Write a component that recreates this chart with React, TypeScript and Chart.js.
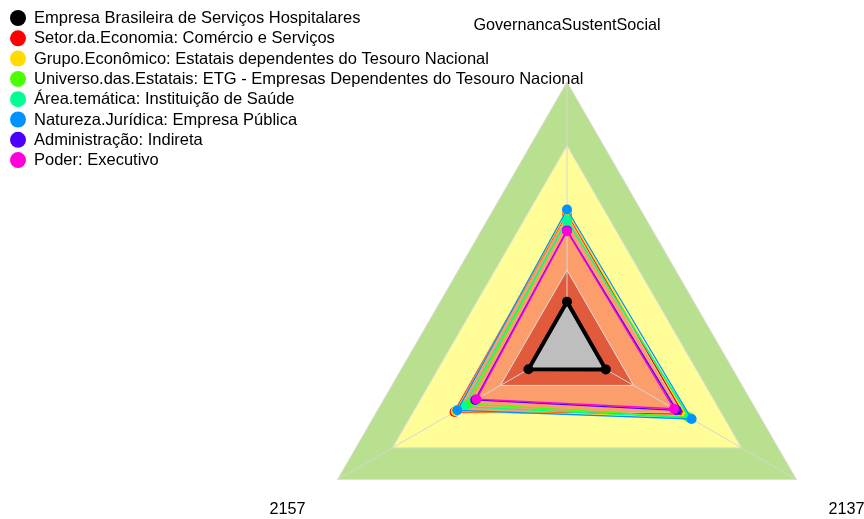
import React, { useEffect, useRef } from "react";
import { Chart, registerables } from "chart.js";
Chart.register(...registerables);

// Axis order for Chart.js (clockwise from top): top, bottom-right, bottom-left
const axisLabels = ["GovernancaSustentSocial", "2137", "2157"];

const seriesNames = [
  "Empresa Brasileira de Serviços Hospitalares",
  "Setor.da.Economia: Comércio e Serviços",
  "Grupo.Econômico: Estatais dependentes do Tesouro Nacional",
  "Universo.das.Estatais: ETG - Empresas Dependentes do Tesouro Nacional",
  "Área.temática: Instituição de Saúde",
  "Natureza.Jurídica: Empresa Pública",
  "Administração: Indireta",
  "Poder: Executivo",
];
const seriesColors = ["#000000", "#FF0000", "#FFDB00", "#49FF00", "#00FF92", "#0092FF", "#4900FF", "#FF00DB"];

const empresa = [0.171, 0.169, 0.168];
const setor = [0.505, 0.507, 0.49];
const grupo = [0.51, 0.52, 0.485];
const universo = [0.48, 0.53, 0.43];
const area = [0.478, 0.535, 0.45];
const natureza = [0.519, 0.543, 0.478];
const administracao = [0.44, 0.478, 0.4];
const poder = [0.437, 0.466, 0.394];

// background bands (outer to inner)
const bandVerde = [1.0, 1.0, 1.0];
const bandAmarelo = [0.76, 0.76, 0.76];
const bandLaranja = [0.5, 0.5, 0.5];
const bandVermelho = [0.29, 0.29, 0.29];
const bandColors = ["#B9E08E", "#FFFD98", "#FC9E6C", "#E15A3B"];

export default function App() {
  const ref = useRef<HTMLCanvasElement>(null);
  useEffect(() => {
    document.body.style.margin = "0";
    const canvas = ref.current!;
    const seriesData = [empresa, setor, grupo, universo, area, natureza, administracao, poder];
    const bands = [bandVerde, bandAmarelo, bandLaranja, bandVermelho];
    const datasets: any[] = [];
    seriesData.forEach((d, i) => {
      datasets.push({
        label: seriesNames[i],
        data: d,
        borderColor: seriesColors[i],
        backgroundColor: i === 0 ? "#BEBEBE" : "rgba(0,0,0,0)",
        fill: i === 0 ? "origin" : false,
        borderWidth: i === 0 ? 4 : 1.3,
        pointRadius: 5,
        pointHoverRadius: 5,
        pointBackgroundColor: seriesColors[i],
        pointBorderColor: seriesColors[i],
        pointBorderWidth: 0,
        order: seriesData.length - i,
      });
    });
    bands.forEach((d, j) => {
      datasets.push({
        label: "band" + j,
        data: d,
        borderColor: "#DEDEDE",
        backgroundColor: bandColors[j],
        fill: "origin",
        borderWidth: 1,
        pointRadius: 0,
        pointHoverRadius: 0,
        order: 100 - j,
        innermost: j === bands.length - 1,
      });
    });

    const overlay = {
      id: "overlay",
      afterDatasetDraw(chart: any, args: any) {
        const ds = chart.data.datasets[args.index];
        if (!ds.innermost) return;
        const scale = chart.scales.r;
        const ctx = chart.ctx;
        ctx.save();
        ctx.strokeStyle = "#D6D6D6";
        ctx.lineWidth = 1;
        for (let i = 0; i < axisLabels.length; i++) {
          const p = scale.getPointPosition(i, scale.getDistanceFromCenterForValue(1));
          ctx.beginPath();
          ctx.moveTo(scale.xCenter, scale.yCenter);
          ctx.lineTo(p.x, p.y);
          ctx.stroke();
        }
        ctx.restore();
      },
      afterDraw(chart: any) {
        const scale = chart.scales.r;
        const ctx = chart.ctx;
        ctx.save();
        ctx.font = "16.2px 'Liberation Sans', Arial, sans-serif";
        ctx.fillStyle = "#000000";
        ctx.textAlign = "center";
        ctx.textBaseline = "middle";
        for (let i = 0; i < axisLabels.length; i++) {
          const p = scale.getPointPosition(i, scale.drawingArea * 1.218);
          ctx.fillText(axisLabels[i], p.x, p.y + 1.5);
        }
        // legend
        ctx.font = "16.5px 'Liberation Sans', Arial, sans-serif";
        ctx.textAlign = "left";
        for (let i = 0; i < seriesNames.length; i++) {
          const y = 18 + i * 20.3;
          ctx.beginPath();
          ctx.fillStyle = seriesColors[i];
          ctx.arc(18, y, 8, 0, Math.PI * 2);
          ctx.fill();
          ctx.fillStyle = "#000000";
          ctx.fillText(seriesNames[i], 34, y + 0.5);
        }
        ctx.restore();
      },
    };

    const chart = new Chart(canvas, {
      type: "radar",
      data: { labels: axisLabels, datasets },
      options: {
        responsive: false,
        animation: false,
        events: [],
        layout: { padding: { left: 302, right: 32, top: 82, bottom: 8 } },
        elements: { line: { tension: 0 } },
        plugins: { legend: { display: false }, tooltip: { enabled: false } },
        scales: {
          r: {
            min: 0,
            max: 1,
            ticks: { display: false },
            grid: { display: false },
            angleLines: { display: false },
            pointLabels: { display: false },
          },
        },
      },
      plugins: [overlay],
    });
    return () => chart.destroy();
  }, []);

  return (
    <div style={{ width: 864, height: 519, overflow: "hidden", background: "#ffffff" }}>
      <canvas ref={ref} width={864} height={620} style={{ display: "block" }} />
    </div>
  );
}
